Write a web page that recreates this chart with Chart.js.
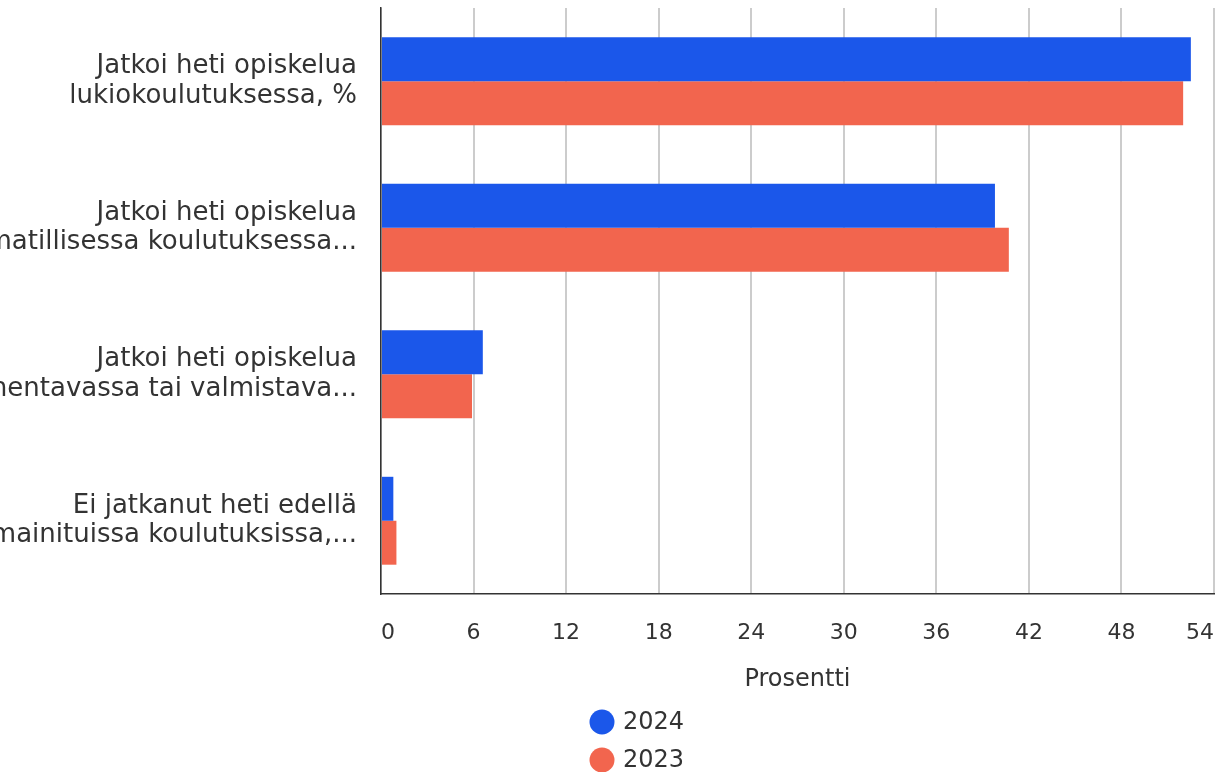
<!DOCTYPE html>
<html lang="fi">
<head>
    <meta charset="UTF-8">
    <title>Jatko-opinnot</title>
    <script src="https://cdn.jsdelivr.net/npm/chart.js"></script>
    <style>
        html, body { margin: 0; padding: 0; background: #fff; }
        #wrap { width: 1222px; height: 772px; position: relative; }
    </style>
</head>
<body>
    <div id="wrap"><canvas id="myChart"></canvas></div>

    <script>
        // data
        const categories = [
            ['Jatkoi heti opiskelua', 'lukiokoulutuksessa, %'],
            ['Jatkoi heti opiskelua', 'ammatillisessa koulutuksessa...'],
            ['Jatkoi heti opiskelua', 'valmentavassa tai valmistava...'],
            ['Ei jatkanut heti edellä', 'mainituissa koulutuksissa,...']
        ];
        const seriesNames = ['2024', '2023'];
        const values2024 = [52.5, 39.8, 6.6, 0.8];
        const values2023 = [52.0, 40.7, 5.9, 1.0];
        const xTicks = [0, 6, 12, 18, 24, 30, 36, 42, 48, 54];
        const axisTitle = 'Prosentti';

        const colors = ['#1b57ea', '#f2654e'];
        const font = 'DejaVu Sans';

        // vertical legend under the axis title
        const stackedLegend = {
            id: 'stackedLegend',
            afterDraw(chart) {
                const c = chart.ctx;
                c.save();
                c.font = '24px "' + font + '"';
                c.textBaseline = 'middle';
                c.textAlign = 'left';
                chart.data.datasets.forEach((ds, i) => {
                    const y = 722 + i * 38;
                    c.fillStyle = ds.backgroundColor;
                    c.beginPath();
                    c.arc(602, y, 12.5, 0, Math.PI * 2);
                    c.fill();
                    c.fillStyle = '#333';
                    c.fillText(ds.label, 623, y + 1);
                });
                c.restore();
            }
        };

        const ctx = document.getElementById('myChart').getContext('2d');
        new Chart(ctx, {
            type: 'bar',
            data: {
                labels: categories,
                datasets: [
                    { label: seriesNames[0], data: values2024, backgroundColor: colors[0] },
                    { label: seriesNames[1], data: values2023, backgroundColor: colors[1] }
                ]
            },
            options: {
                indexAxis: 'y',
                responsive: true,
                maintainAspectRatio: false,
                animation: false,
                categoryPercentage: 0.6,
                barPercentage: 1.0,
                layout: { padding: { left: 0, right: 8, top: 8, bottom: 80 } },
                plugins: {
                    legend: { display: false },
                    tooltip: { enabled: false }
                },
                scales: {
                    x: {
                        min: xTicks[0],
                        max: xTicks[xTicks.length - 1],
                        afterBuildTicks: (s) => { s.ticks = xTicks.map(v => ({ value: v })); },
                        afterFit: (s) => {
                            s.height = 98;
                            s.paddingLeft = 0;
                            s.paddingRight = 0;
                        },
                        grid: { color: '#cccccc', lineWidth: 2, drawTicks: false },
                        border: { color: '#333', width: 1.5 },
                        ticks: {
                            align: 'inner',
                            padding: 26,
                            color: '#333',
                            font: { family: font, size: 22 }
                        },
                        title: {
                            display: true,
                            text: axisTitle,
                            color: '#333',
                            padding: 0,
                            font: { family: font, size: 24, lineHeight: 1 }
                        }
                    },
                    y: {
                        afterFit: (s) => {
                            s.width = 381;
                            s.paddingTop = 0;
                            s.paddingBottom = 0;
                        },
                        grid: { display: false, drawTicks: false },
                        border: { color: '#333', width: 1.5 },
                        ticks: {
                            padding: 24,
                            color: '#333',
                            font: { family: font, size: 26, lineHeight: 1.15 }
                        }
                    }
                }
            },
            plugins: [stackedLegend]
        });
    </script>
</body>
</html>
